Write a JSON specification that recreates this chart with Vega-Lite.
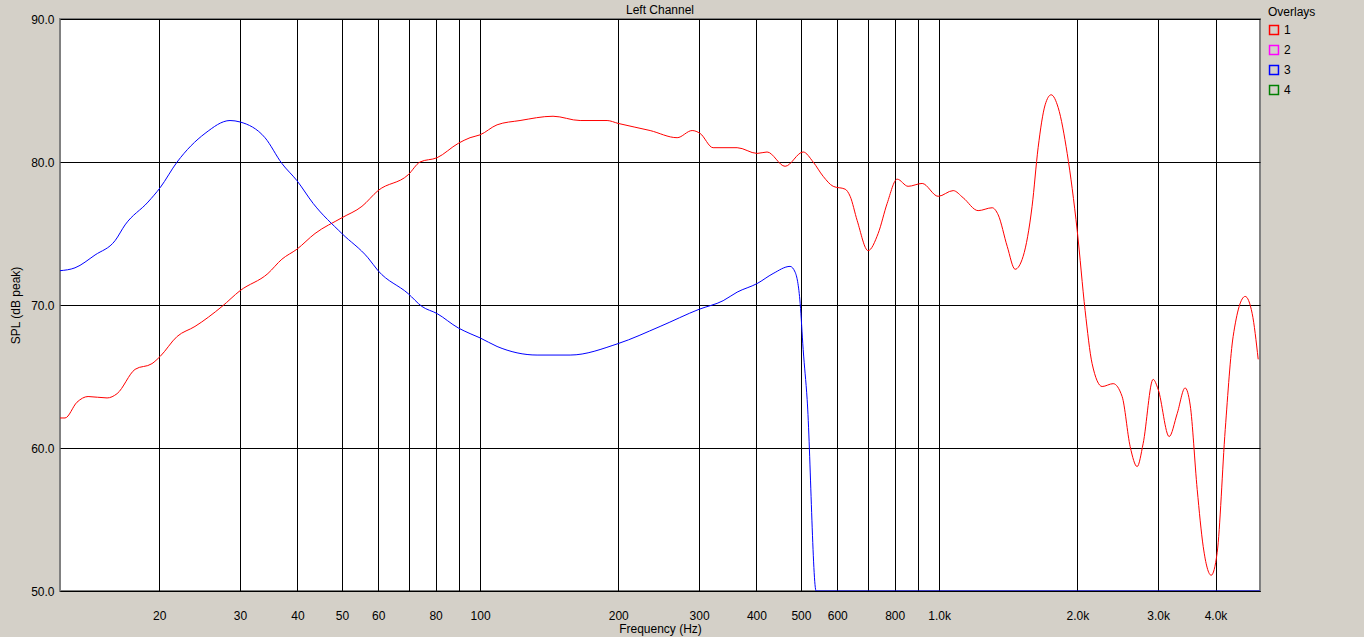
{
  "$schema": "https://vega.github.io/schema/vega-lite/v6.json",
  "autosize": "none",
  "width": 1200,
  "height": 572,
  "padding": {"left": 60, "top": 19, "right": 104, "bottom": 46},
  "background": "#d4d0c8",
  "config": {
    "font": "Liberation Sans",
    "view": {"fill": "#ffffff", "stroke": "#808080", "strokeWidth": 2},
    "axis": {
      "labelFont": "Liberation Sans",
      "titleFont": "Liberation Sans",
      "labelFontSize": 12,
      "titleFontSize": 12,
      "labelColor": "#000000",
      "titleColor": "#000000",
      "titleFontWeight": "normal",
      "gridColor": "#000000",
      "gridOpacity": 1,
      "gridWidth": 1,
      "ticks": false
    }
  },
  "title": {
    "text": "Left Channel",
    "fontSize": 12,
    "fontWeight": "normal",
    "font": "Liberation Sans",
    "color": "#000000",
    "anchor": "middle",
    "frame": "group",
    "offset": -10
  },
  "data": {
    "values": [
      {"set": "1", "freq": 12.16, "spl": 62.1},
      {"set": "1", "freq": 12.47, "spl": 62.1},
      {"set": "1", "freq": 13.24, "spl": 63.2},
      {"set": "1", "freq": 14.0, "spl": 63.6},
      {"set": "1", "freq": 15.4, "spl": 63.5},
      {"set": "1", "freq": 16.19, "spl": 63.8},
      {"set": "1", "freq": 17.72, "spl": 65.5},
      {"set": "1", "freq": 19.29, "spl": 65.9},
      {"set": "1", "freq": 20.09, "spl": 66.4},
      {"set": "1", "freq": 21.88, "spl": 67.8},
      {"set": "1", "freq": 23.93, "spl": 68.5},
      {"set": "1", "freq": 27.41, "spl": 69.9},
      {"set": "1", "freq": 30.0, "spl": 71.0},
      {"set": "1", "freq": 34.5, "spl": 72.2},
      {"set": "1", "freq": 37.0, "spl": 73.2},
      {"set": "1", "freq": 39.9, "spl": 73.9},
      {"set": "1", "freq": 43.7, "spl": 75.0},
      {"set": "1", "freq": 50.0, "spl": 76.1},
      {"set": "1", "freq": 55.3, "spl": 76.9},
      {"set": "1", "freq": 59.95, "spl": 78.0},
      {"set": "1", "freq": 69.7, "spl": 79.1},
      {"set": "1", "freq": 74.0, "spl": 80.0},
      {"set": "1", "freq": 80.6, "spl": 80.3},
      {"set": "1", "freq": 89.6, "spl": 81.3},
      {"set": "1", "freq": 95.1, "spl": 81.7},
      {"set": "1", "freq": 100, "spl": 81.9},
      {"set": "1", "freq": 108.9, "spl": 82.6},
      {"set": "1", "freq": 122.2, "spl": 82.9},
      {"set": "1", "freq": 144.2, "spl": 83.2},
      {"set": "1", "freq": 165.2, "spl": 82.9},
      {"set": "1", "freq": 189.1, "spl": 82.9},
      {"set": "1", "freq": 199.8, "spl": 82.7},
      {"set": "1", "freq": 234.7, "spl": 82.2},
      {"set": "1", "freq": 268.7, "spl": 81.7},
      {"set": "1", "freq": 289.7, "spl": 82.2},
      {"set": "1", "freq": 301.5, "spl": 82.0},
      {"set": "1", "freq": 321.8, "spl": 81.0},
      {"set": "1", "freq": 363.1, "spl": 81.0},
      {"set": "1", "freq": 401.3, "spl": 80.6},
      {"set": "1", "freq": 421.9, "spl": 80.7},
      {"set": "1", "freq": 461.8, "spl": 79.7},
      {"set": "1", "freq": 505.6, "spl": 80.7},
      {"set": "1", "freq": 531.6, "spl": 80.0},
      {"set": "1", "freq": 558.9, "spl": 79.0},
      {"set": "1", "freq": 587.7, "spl": 78.3},
      {"set": "1", "freq": 624.1, "spl": 78.1},
      {"set": "1", "freq": 640.0, "spl": 77.6},
      {"set": "1", "freq": 663.0, "spl": 75.9},
      {"set": "1", "freq": 700.3, "spl": 73.8},
      {"set": "1", "freq": 736.4, "spl": 75.0},
      {"set": "1", "freq": 770.4, "spl": 77.1},
      {"set": "1", "freq": 810.2, "spl": 78.8},
      {"set": "1", "freq": 855.9, "spl": 78.3},
      {"set": "1", "freq": 918.4, "spl": 78.5},
      {"set": "1", "freq": 995, "spl": 77.6},
      {"set": "1", "freq": 1073, "spl": 78.0},
      {"set": "1", "freq": 1128, "spl": 77.5},
      {"set": "1", "freq": 1216, "spl": 76.6},
      {"set": "1", "freq": 1305, "spl": 76.8},
      {"set": "1", "freq": 1345, "spl": 76.3},
      {"set": "1", "freq": 1407, "spl": 74.1},
      {"set": "1", "freq": 1464, "spl": 72.5},
      {"set": "1", "freq": 1524, "spl": 73.4},
      {"set": "1", "freq": 1594, "spl": 76.9},
      {"set": "1", "freq": 1643, "spl": 81.0},
      {"set": "1", "freq": 1702, "spl": 84.0},
      {"set": "1", "freq": 1754, "spl": 84.7},
      {"set": "1", "freq": 1817, "spl": 83.8},
      {"set": "1", "freq": 1901, "spl": 80.6},
      {"set": "1", "freq": 1999, "spl": 75.2},
      {"set": "1", "freq": 2080, "spl": 69.6},
      {"set": "1", "freq": 2154, "spl": 65.9},
      {"set": "1", "freq": 2265, "spl": 64.3},
      {"set": "1", "freq": 2394, "spl": 64.5},
      {"set": "1", "freq": 2504, "spl": 63.6},
      {"set": "1", "freq": 2607, "spl": 60.1},
      {"set": "1", "freq": 2700, "spl": 58.7},
      {"set": "1", "freq": 2782, "spl": 60.3},
      {"set": "1", "freq": 2925, "spl": 64.8},
      {"set": "1", "freq": 3000, "spl": 64.1},
      {"set": "1", "freq": 3170, "spl": 60.8},
      {"set": "1", "freq": 3300, "spl": 62.4},
      {"set": "1", "freq": 3434, "spl": 64.2},
      {"set": "1", "freq": 3523, "spl": 63.0},
      {"set": "1", "freq": 3649, "spl": 57.1},
      {"set": "1", "freq": 3761, "spl": 53.1},
      {"set": "1", "freq": 3914, "spl": 51.1},
      {"set": "1", "freq": 4034, "spl": 52.7},
      {"set": "1", "freq": 4200, "spl": 61.3},
      {"set": "1", "freq": 4370, "spl": 67.8},
      {"set": "1", "freq": 4642, "spl": 70.6},
      {"set": "1", "freq": 4808, "spl": 69.4},
      {"set": "1", "freq": 4955, "spl": 66.2},
      {"set": "3", "freq": 12.16, "spl": 72.4},
      {"set": "3", "freq": 13.11, "spl": 72.6},
      {"set": "3", "freq": 14.5, "spl": 73.5},
      {"set": "3", "freq": 16.03, "spl": 74.5},
      {"set": "3", "freq": 16.85, "spl": 75.6},
      {"set": "3", "freq": 18.91, "spl": 77.2},
      {"set": "3", "freq": 20.09, "spl": 78.2},
      {"set": "3", "freq": 21.88, "spl": 80.0},
      {"set": "3", "freq": 25.17, "spl": 82.0},
      {"set": "3", "freq": 28.53, "spl": 82.9},
      {"set": "3", "freq": 30.0, "spl": 82.8},
      {"set": "3", "freq": 34.0, "spl": 81.7},
      {"set": "3", "freq": 37.0, "spl": 79.9},
      {"set": "3", "freq": 39.9, "spl": 78.7},
      {"set": "3", "freq": 43.3, "spl": 77.1},
      {"set": "3", "freq": 50.0, "spl": 75.0},
      {"set": "3", "freq": 57.0, "spl": 73.3},
      {"set": "3", "freq": 59.95, "spl": 72.4},
      {"set": "3", "freq": 69.7, "spl": 70.8},
      {"set": "3", "freq": 74.7, "spl": 69.9},
      {"set": "3", "freq": 80.6, "spl": 69.4},
      {"set": "3", "freq": 89.6, "spl": 68.4},
      {"set": "3", "freq": 95.1, "spl": 68.0},
      {"set": "3", "freq": 100, "spl": 67.7},
      {"set": "3", "freq": 108.9, "spl": 67.1},
      {"set": "3", "freq": 133.1, "spl": 66.5},
      {"set": "3", "freq": 157.1, "spl": 66.5},
      {"set": "3", "freq": 199.8, "spl": 67.3},
      {"set": "3", "freq": 246.7, "spl": 68.5},
      {"set": "3", "freq": 300, "spl": 69.7},
      {"set": "3", "freq": 338.4, "spl": 70.3},
      {"set": "3", "freq": 363.1, "spl": 70.9},
      {"set": "3", "freq": 401.3, "spl": 71.5},
      {"set": "3", "freq": 434.8, "spl": 72.2},
      {"set": "3", "freq": 473.5, "spl": 72.7},
      {"set": "3", "freq": 485.6, "spl": 72.3},
      {"set": "3", "freq": 498.1, "spl": 70.1},
      {"set": "3", "freq": 505.6, "spl": 66.9},
      {"set": "3", "freq": 515.8, "spl": 63.4},
      {"set": "3", "freq": 539.6, "spl": 50.0},
      {"set": "3", "freq": 5000, "spl": 50.0}
    ]
  },
  "mark": {"type": "line", "strokeWidth": 1, "clip": true, "interpolate": "monotone"},
  "encoding": {
    "x": {
      "field": "freq",
      "type": "quantitative",
      "scale": {"type": "log", "domain": [12.16, 5000], "nice": false},
      "axis": {
        "title": "Frequency (Hz)",
        "values": [20, 30, 40, 50, 60, 70, 80, 90, 100, 200, 300, 400, 500, 600, 700, 800, 900, 1000, 2000, 3000, 4000],
        "labelExpr": "datum.value >= 1000 ? format(datum.value / 1000, '.1f') + 'k' : (datum.value == 70 || datum.value == 90 || datum.value == 700 || datum.value == 900 ? '' : datum.label)",
        "labelPadding": 19,
        "titlePadding": 2,
        "domainColor": "#000000",
        "labelFlush": false,
        "labelOverlap": false
      }
    },
    "y": {
      "field": "spl",
      "type": "quantitative",
      "scale": {"domain": [50, 90], "nice": false},
      "axis": {
        "title": "SPL (dB peak)",
        "values": [50, 60, 70, 80, 90],
        "format": ".1f",
        "labelPadding": 6,
        "titlePadding": 8,
        "domain": false
      }
    },
    "color": {
      "field": "set",
      "type": "nominal",
      "scale": {"domain": ["1", "2", "3", "4"], "range": ["#ff0000", "#ff00ff", "#0000ff", "#008000"]},
      "legend": {
        "title": "Overlays",
        "orient": "none",
        "legendX": 1208,
        "legendY": -12,
        "symbolType": "square",
        "symbolSize": 80,
        "labelFontSize": 12,
        "titleFontSize": 12,
        "titleFontWeight": "normal",
        "titleColor": "#000000",
        "labelColor": "#000000",
        "rowPadding": 4
      }
    }
  }
}
